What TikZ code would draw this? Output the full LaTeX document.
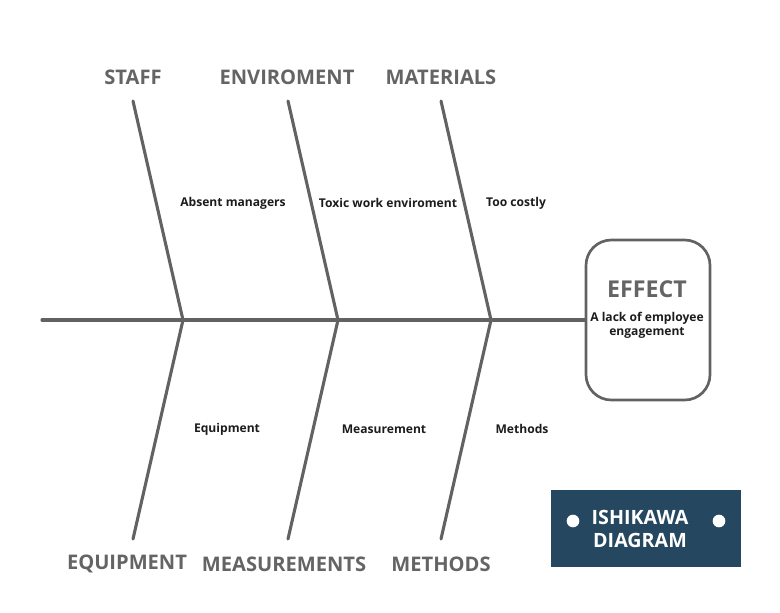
\documentclass[tikz,border=0pt]{standalone}
\usepackage{fontspec}
\setmainfont{Open Sans}
\usetikzlibrary{positioning,calc}
\definecolor{bonegray}{RGB}{98,98,98}
\definecolor{headgray}{RGB}{100,100,100}
\definecolor{labelblack}{RGB}{28,28,28}
\definecolor{badgeblue}{RGB}{38,71,96}
\tikzset{
  bone/.style={draw=bonegray, line width=2.2pt, line cap=round},
  head/.style={text=headgray, font=\fontsize{14.3}{16}\selectfont\bfseries},
  cause/.style={text=labelblack, font=\fontsize{8.6}{10}\selectfont\bfseries},
  effectbox/.style={draw=bonegray, line width=1.9pt, rounded corners=18pt,
    minimum width=124*0.025cm, minimum height=160*0.025cm},
  badge/.style={fill=badgeblue, minimum width=190*0.025cm, minimum height=77*0.025cm},
  dot/.style={circle, fill=white, inner sep=0pt, minimum size=9pt}
}
\begin{document}
\begin{tikzpicture}[x=0.025cm, y=-0.025cm]
\useasboundingbox (0,0) rectangle (780,612);

% head and spine
\node[effectbox] (effect) at (648,320) {};
\node[text=headgray, font=\fontsize{16.5}{18}\selectfont\bfseries] (effecttitle) at (647,289) {EFFECT};
\node[cause, align=center] (effecttext) at (647,325) {A lack of employee\\engagement};
\coordinate (tail) at (42,320);
\draw[bone] (tail) -- (effect.west);

% joints on the spine
\coordinate (j1) at (183,320);
\coordinate (j2) at (338,320);
\coordinate (j3) at (491,320);

% top bones
\coordinate (t1) at (133,101);
\coordinate (t2) at (288,101);
\coordinate (t3) at (441,101);
\draw[bone] (t1) -- (j1);
\draw[bone] (t2) -- (j2);
\draw[bone] (t3) -- (j3);
\node[head] (staff) at (133,77) {STAFF};
\node[head] (envir) at (287,77) {ENVIROMENT};
\node[head] (mater) at (441,77) {MATERIALS};
\node[cause] (absent) at (233,203) {Absent managers};
\node[cause] (toxic) at (388,203) {Toxic work enviroment};
\node[cause] (costly) at (516,203) {Too costly};

% bottom bones
\coordinate (b1) at (133,539);
\coordinate (b2) at (288,539);
\coordinate (b3) at (441,539);
\draw[bone] (j1) -- (b1);
\draw[bone] (j2) -- (b2);
\draw[bone] (j3) -- (b3);
\node[head] (equip) at (127,564) {EQUIPMENT};
\node[head] (measu) at (284,564) {MEASUREMENTS};
\node[head] (metho) at (441,564) {METHODS};
\node[cause] (equiptext) at (227,429) {Equipment};
\node[cause] (measutext) at (384,429) {Measurement};
\node[cause] (methotext) at (522,429) {Methods};

% badge
\node[badge] (tag) at (646,528) {};
\node[dot] (dotl) at (573,521) {};
\node[dot] (dotr) at (719,521) {};
\node[text=white, font=\fontsize{14}{17}\selectfont\bfseries, align=center] (tagtext) at (640,529) {ISHIKAWA\\[-1pt]DIAGRAM};
\end{tikzpicture}
\end{document}
